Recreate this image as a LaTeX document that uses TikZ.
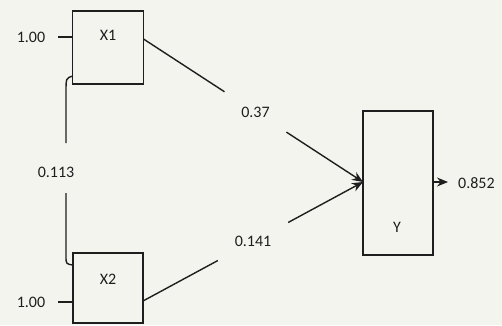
\documentclass[tikz,border=0pt]{standalone}
\usepackage{fontspec}
\setmainfont{Carlito}
\usetikzlibrary{arrows.meta,calc}
\definecolor{bg}{RGB}{244,244,239}
\definecolor{ink}{RGB}{30,30,30}
\tikzset{
  box/.style={draw=ink, line width=1.3pt, fill=bg, inner sep=0pt},
  lbl/.style={text=ink, font=\fontsize{16}{18}\selectfont, inner sep=1pt},
  ln/.style={draw=ink, line width=1.4pt},
  arr/.style={ln, -{Stealth[length=11pt,width=9pt]}}
}
\begin{document}
\begin{tikzpicture}[x=1pt,y=-1pt]
  \fill[bg] (0,0) rectangle (502,325);
  \useasboundingbox (0,0) rectangle (502,325);
  % boxes
  \node[box, minimum width=71pt, minimum height=73pt] (X1) at (108,47.5) {};
  \node[box, minimum width=70pt, minimum height=70pt] (X2) at (108,288) {};
  \node[box, minimum width=70pt, minimum height=144pt] (Y) at (398,183) {};
  \node[lbl] (tX1) at (108,35) {X1};
  \node[lbl] (tX2) at (108,279) {X2};
  \node[lbl] (tY) at (397,227) {Y};
  % exogenous variances
  \node[lbl] (v1) at (31,37) {1.00};
  \node[lbl] (v2) at (31,302) {1.00};
  \coordinate (v1e) at (58,37);
  \coordinate (v2e) at (58,302);
  \draw[ln] (v1e) -- (v1e -| X1.west);
  \draw[ln] (v2e) -- (v2e -| X2.west);
  % correlation
  \node[lbl] (r) at (56,172) {0.113};
  \coordinate (c1) at (73,76);
  \coordinate (c2) at (73,265);
  \draw[ln] (c1) .. controls (66,78) .. (66,92) -- (66,143);
  \draw[ln] (66,193) -- (66,256) .. controls (66,264) .. (c2);
  % paths
  \coordinate (x1o) at (143.5,39);
  \coordinate (x2o) at (143,301);
  \coordinate (yi) at (363,182);
  \path (x1o) -- node[lbl, pos=0.51] (p1) {0.37} (yi);
  \path (x2o) -- node[lbl, pos=0.50] (p2) {0.141} (yi);
  \draw[ln] (x1o) -- ($(p1.center)!37pt!(x1o)$);
  \draw[arr] ($(p1.center)!37pt!(yi)$) -- (yi);
  \draw[ln] (x2o) -- ($(p2.center)!40pt!(x2o)$);
  \draw[arr] ($(p2.center)!40pt!(yi)$) -- (yi);
  % residual
  \node[lbl, anchor=west] (e) at (457,183) {0.852};
  \draw[arr] (Y.east |- yi) -- (448,182);
\end{tikzpicture}
\end{document}
